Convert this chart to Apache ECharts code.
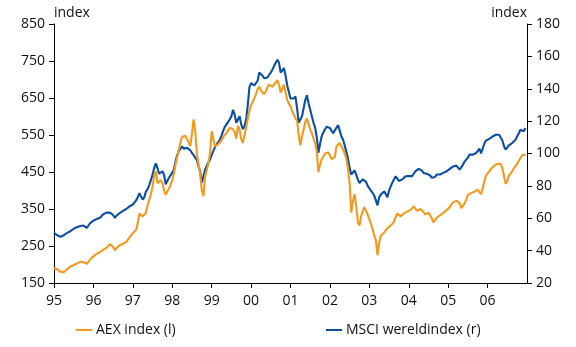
<!DOCTYPE html>
<html>
<head>
<meta charset="utf-8">
<script src="https://cdn.jsdelivr.net/npm/echarts@6/dist/echarts.min.js"></script>
<style>
  html, body { margin: 0; padding: 0; background: #ffffff; }
  #chart { width: 576px; height: 347px; }
</style>
</head>
<body>
<div id="chart"></div>
<script>
// Half-monthly closes, January 1995 through December 2006 (24 per year).
const firstYear = 1995;
const samplesPerYear = 24;

// AEX index, left axis
const aexValues = [
  190,188,187,185,180,177,179,183,187,192,195,196,198,200,203,205,207,208,206,204,202,207,214,219, // 1995
  222,226,229,231,233,237,240,242,245,250,255,256,248,238,244,249,252,254,256,258,261,266,273,279, // 1996
  285,290,293,312,338,342,330,332,340,360,375,390,410,440,452,420,415,428,420,400,388,398,405,415, // 1997
  428,445,470,490,510,530,545,540,548,545,530,520,555,592,560,500,470,445,400,385,438,455,474,500, // 1998
  560,540,520,522,525,528,535,545,550,555,560,570,572,565,558,540,575,565,540,528,550,570,595,615, // 1999
  632,640,650,660,675,681,670,665,660,668,680,686,682,680,686,690,698,685,665,675,686,665,645,635, // 2000
  627,615,605,595,588,550,522,545,565,585,595,580,565,555,540,528,505,450,470,485,492,500,505,503, // 2001
  505,485,480,490,520,525,528,520,510,500,485,460,420,340,370,390,360,315,305,330,345,355,345,335, // 2002
  330,310,295,278,265,225,260,278,283,286,292,298,300,305,310,315,328,338,333,330,335,338,340,343, // 2003
  345,347,350,357,360,345,340,350,354,342,335,338,340,336,325,314,320,326,330,333,335,339,343,347, // 2004
  350,355,362,368,372,372,374,366,352,355,365,375,388,393,393,395,397,398,402,405,390,405,425,440, // 2005
  445,452,458,462,467,470,472,471,472,460,440,418,425,440,445,452,460,466,472,480,488,495,500,497  // 2006
];

// MSCI world index, right axis
const msciValues = [
  51,50,49.5,49,48.5,48.5,49.5,50.5,51,51.5,52,52.5,53.5,54,54.5,55,55.2,55,55.5,54.5,54,55.5,57,58, // 1995
  58.5,59,59.5,60,60.3,61.5,62.5,63,63.5,64.2,63.5,63,62,60.2,61.5,62.5,63.2,63.8,64.5,65,65.7,66.5,67.3,67.8, // 1996
  68.5,69.5,71,73,75.5,75,71.5,73,76.6,78,80.5,83.5,87,91,94,91,87.5,88.5,89,87,81,82,85,86.5, // 1997
  87.5,90,95,99,101.5,103,104.4,103,102.4,103.5,104.4,102,100.3,99,97.5,96,92,89,82,86,90,92.5,94.5,96.2, // 1998
  99,101.5,104,105.5,107,108.5,111,114,116.5,118,119.5,121,123,127,124,119,121,123,118,115,117,121,130,141, // 1999
  143.5,142.5,142,141.5,145,150,151,148,146.5,145.6,147,148.7,150,151.8,154,156,158,156,150,150.5,152.8,148,142,138, // 2000
  134,133.2,134,135.3,128,119,120,123,128,133,136,131,127,123,119,116,110,100.5,106,110.6,113,115,116.5,115.5, // 2001
  115.8,114,112.5,111.6,116,117.5,114,110.5,108.5,105,101,97,91,87,86,89.5,87,84,81.8,82.5,84,85,82.5,80, // 2002
  79.5,77,75.6,74,73,68,73,74.6,75.5,76.6,75,73,77,79.7,82,84,85.9,84.5,83,82.8,84,85,85.9,86, // 2003
  86,86.5,86,87.5,89,90,90.5,91,89.5,88,87,87.5,88,86.5,85,83.8,85.5,87,88,87,87.5,88,88.5,89, // 2004
  89.5,90.5,91.5,92,92,92.5,92,90,89,93,95,95.1,97.5,99.3,99.5,99.3,100,100.3,101.5,103,100,101,106,108, // 2005
  108.5,109,109.6,110.5,111,111.6,112,111.6,111,108,104.5,102.4,103.5,105,105.4,106.5,107.5,108.5,110.5,112.5,114.7,114,113.7,115.8 // 2006
];

const aexName = 'AEX index (l)';
const msciName = 'MSCI wereldindex (r)';
const aexColor = '#F39A1E';
const msciColor = '#0A4FA3';

// Sample times as decimal years
const sampleTimes = aexValues.map((_, k) => firstYear + k / samplesPerYear);

const font = 'Open Sans';
const textColor = '#111111';
const axisColor = '#000000';

const chart = echarts.init(document.getElementById('chart'), null, { renderer: 'canvas' });

const legendBase = {
  icon: 'rect',
  itemWidth: 16,
  itemHeight: 2,
  itemGap: 0,
  top: 318,
  textStyle: { fontFamily: font, fontSize: 14, color: textColor, padding: [0, 0, 0, -1] }
};

chart.setOption({
  animation: false,
  backgroundColor: '#ffffff',
  grid: { left: 54, right: 49, top: 24, bottom: 64, containLabel: false },
  legend: [
    Object.assign({}, legendBase, { data: [aexName], left: 71 }),
    Object.assign({}, legendBase, { data: [msciName], left: 321 })
  ],
  xAxis: {
    type: 'value',
    min: 1995,
    max: 2007,
    interval: 1,
    axisLine: { show: true, lineStyle: { color: axisColor, width: 1 } },
    axisTick: { show: true, length: 5, inside: false, lineStyle: { color: axisColor } },
    splitLine: { show: false },
    axisLabel: {
      showMaxLabel: false,
      margin: 11,
      fontFamily: font, fontSize: 14, color: textColor,
      formatter: v => String(Math.round(v)).slice(2)
    }
  },
  yAxis: [
    {
      type: 'value',
      position: 'left',
      min: 150, max: 850, interval: 100,
      name: 'index',
      nameLocation: 'end',
      nameGap: 4,
      nameTextStyle: { fontFamily: font, fontSize: 14, color: textColor, align: 'left' },
      axisLine: { show: true, lineStyle: { color: axisColor, width: 1 } },
      axisTick: { show: true, length: 5, inside: false, lineStyle: { color: axisColor } },
      splitLine: { show: false },
      axisLabel: { margin: 9, fontFamily: font, fontSize: 14, color: textColor }
    },
    {
      type: 'value',
      position: 'right',
      min: 20, max: 180, interval: 20,
      name: 'index',
      nameLocation: 'end',
      nameGap: 4,
      nameTextStyle: { fontFamily: font, fontSize: 14, color: textColor, align: 'right' },
      axisLine: { show: true, lineStyle: { color: axisColor, width: 1 } },
      axisTick: { show: true, length: 5, inside: false, lineStyle: { color: axisColor } },
      splitLine: { show: false },
      axisLabel: { margin: 9, fontFamily: font, fontSize: 14, color: textColor }
    }
  ],
  series: [
    {
      name: msciName,
      type: 'line',
      yAxisIndex: 1,
      showSymbol: false,
      color: msciColor,
      lineStyle: { color: msciColor, width: 2.1 },
      data: sampleTimes.map((t, i) => [t, msciValues[i]])
    },
    {
      name: aexName,
      type: 'line',
      yAxisIndex: 0,
      showSymbol: false,
      color: aexColor,
      lineStyle: { color: aexColor, width: 2.1 },
      data: sampleTimes.map((t, i) => [t, aexValues[i]])
    }
  ]
});
</script>
</body>
</html>
